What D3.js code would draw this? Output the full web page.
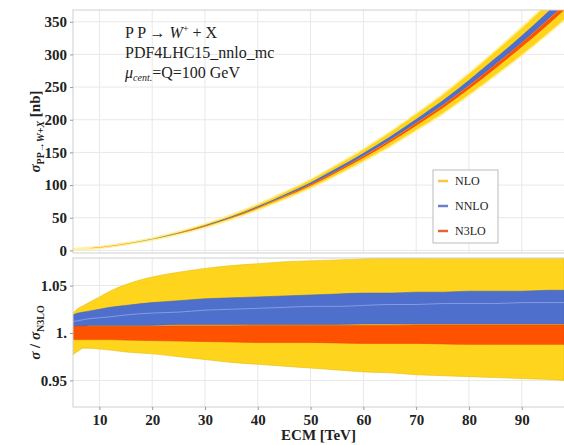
<!DOCTYPE html>
<html><head><meta charset="utf-8">
<script src="https://cdn.jsdelivr.net/npm/d3@7"></script>
<style>body{margin:0;background:#fff}svg{display:block}
svg text{font-family:'Liberation Serif','Times New Roman',serif !important;}</style>
</head><body>
<script>
// ---- data ----
const ecm = [5,6,7,8,10,12,15,20,25,30,35,40,45,50,55,60,65,70,75,80,85,90,95,98];
const sigmaN3LO = [1.5,2,2.6,3.2,4.6,6.5,10,17,26,37,50,65,82,100,121,143,167,193,220,250,282,315,350,372];
const nloHi  = [1.021,1.026,1.029,1.032,1.038,1.044,1.051,1.059,1.064,1.068,1.071,1.073,1.075,1.076,1.077,1.078,1.079,1.079,1.080,1.080,1.080,1.080,1.080,1.080];
const nloLo  = [0.977,0.981,0.984,0.984,0.983,0.982,0.980,0.978,0.975,0.972,0.969,0.967,0.965,0.963,0.961,0.959,0.958,0.956,0.955,0.954,0.953,0.952,0.951,0.950];
const nnloHi = [1.019,1.021,1.022,1.023,1.025,1.027,1.029,1.032,1.034,1.036,1.037,1.038,1.039,1.040,1.041,1.042,1.042,1.043,1.043,1.044,1.044,1.044,1.045,1.045];
const nnloLo = [1.006,1.007,1.007,1.008,1.008,1.008,1.008,1.008,1.009,1.009,1.009,1.009,1.009,1.009,1.009,1.0095,1.0095,1.0095,1.0095,1.0095,1.0095,1.0095,1.0095,1.0095];
const nnloMid= [1.012,1.013,1.014,1.015,1.016,1.017,1.019,1.021,1.022,1.024,1.025,1.026,1.027,1.028,1.028,1.029,1.030,1.030,1.031,1.031,1.031,1.032,1.032,1.032];
const n3loHi = [1.007,1.007,1.007,1.007,1.007,1.007,1.007,1.007,1.0075,1.0075,1.0075,1.008,1.008,1.008,1.008,1.008,1.008,1.0085,1.0085,1.0085,1.0085,1.0085,1.0085,1.0085];
const n3loLo = [0.993,0.993,0.993,0.993,0.993,0.993,0.9925,0.992,0.9915,0.991,0.9905,0.990,0.990,0.990,0.9895,0.989,0.989,0.989,0.9885,0.988,0.988,0.988,0.988,0.988];
const xTicks = [10,20,30,40,50,60,70,80,90];
const yTopTicks = [0,50,100,150,200,250,300,350];
const yBotTicks = [0.95,1,1.05];
const yBotTickLabels = ["0.95","1.","1.05"];
const legendLabels = ["NLO","NNLO","N3LO"];
const bandColors = ["#ffd41c","#4f6fcc","#ff5200"];
const legendColors = ["#f6c843","#6b80c8","#e2643a"];

const W = 564, H = 445;
const L = 73, R = 564, T1 = 10, B1 = 253, T2 = 258, B2 = 407;
const svg = d3.select("body").append("svg").attr("width", W).attr("height", H);

const x = d3.scaleLinear().domain([5, 98]).range([L, R]);
const yTop = d3.scaleLinear().domain([-4, 368]).range([B1, T1]);
const yBot = d3.scaleLinear().domain([0.922, 1.079]).range([B2, T2]);

const defs = svg.append("defs");
defs.append("clipPath").attr("id","c1").append("rect").attr("x",L).attr("y",T1).attr("width",R-L).attr("height",B1-T1);
defs.append("clipPath").attr("id","c2").append("rect").attr("x",L).attr("y",T2).attr("width",R-L).attr("height",B2-T2);

const gridCol = "#e8e8e8", frameCol = "#cfcfcf";

function grid(yScale, ticks, top, bottom) {
  const g = svg.append("g");
  g.selectAll(".vx").data(xTicks).join("line")
    .attr("x1", d => x(d)).attr("x2", d => x(d)).attr("y1", top).attr("y2", bottom)
    .attr("stroke", gridCol).attr("stroke-width", 1);
  g.selectAll(".hy").data(ticks).join("line")
    .attr("x1", L).attr("x2", R).attr("y1", d => yScale(d)).attr("y2", d => yScale(d))
    .attr("stroke", gridCol).attr("stroke-width", 1);
}
grid(yTop, yTopTicks, T1, B1);
grid(yBot, yBotTicks, T2, B2);

const idx = d3.range(ecm.length);
const bands = [[nloLo,nloHi],[nnloLo,nnloHi],[n3loLo,n3loHi]];

// top panel bands (absolute)
const gTop = svg.append("g").attr("clip-path","url(#c1)");
bands.forEach(([lo,hi], k) => {
  const area = d3.area().curve(d3.curveMonotoneX)
    .x(i => x(ecm[i])).y0(i => yTop(sigmaN3LO[i]*lo[i])).y1(i => yTop(sigmaN3LO[i]*hi[i]));
  if (k === 0) {
    gTop.append("path").attr("d", area(idx)).attr("fill", "#fff3a0")
      .attr("stroke", "#fff0a0").attr("stroke-width", 3);
  }
  gTop.append("path").attr("d", area(idx)).attr("fill", bandColors[k]);
});

// bottom panel bands (ratio)
const gBot = svg.append("g").attr("clip-path","url(#c2)");
bands.forEach(([lo,hi], k) => {
  const area = d3.area().curve(d3.curveMonotoneX)
    .x(i => x(ecm[i])).y0(i => yBot(lo[i])).y1(i => yBot(hi[i]));
  gBot.append("path").attr("d", area(idx)).attr("fill", bandColors[k])
    .attr("stroke", d3.color(bandColors[k]).darker(0.3)).attr("stroke-width", 0.6);
});
gBot.append("path")
  .attr("d", d3.line().curve(d3.curveMonotoneX).x(i => x(ecm[i])).y(i => yBot(nnloMid[i]))(idx))
  .attr("fill","none").attr("stroke","#93a6e4").attr("stroke-opacity",0.8).attr("stroke-width",1);

// frames
[[T1,B1],[T2,B2]].forEach(([t,b]) => {
  svg.append("rect").attr("x",L).attr("y",t).attr("width",R-L+2).attr("height",b-t)
    .attr("fill","none").attr("stroke",frameCol).attr("stroke-width",1);
});

// axes
function styleAxis(g) {
  g.attr("font-family", null);
  g.select(".domain").remove();
  g.selectAll(".tick line").attr("stroke","#999");
  g.selectAll(".tick text").attr("font-size","15px").attr("font-weight","bold").attr("fill","#222");
}
svg.append("g").attr("transform",`translate(${L},0)`)
  .call(d3.axisLeft(yTop).tickValues(yTopTicks).tickSize(3).tickPadding(3)).call(styleAxis);
svg.append("g").attr("transform",`translate(${L},0)`)
  .call(d3.axisLeft(yBot).tickValues(yBotTicks).tickFormat((d,i)=>yBotTickLabels[i]).tickSize(3).tickPadding(3)).call(styleAxis);
svg.append("g").attr("transform",`translate(0,${B2})`)
  .call(d3.axisBottom(x).tickValues(xTicks).tickFormat(d3.format("d")).tickSize(3).tickPadding(4)).call(styleAxis);

// axis titles
svg.append("text").attr("x", (L+R)/2).attr("y", 440).attr("text-anchor","middle")
  .attr("font-size","15px").attr("font-weight","bold").attr("fill","#222").text("ECM [TeV]");

const yl1 = svg.append("text").attr("transform",`translate(40,${(T1+B1)/2}) rotate(-90)`)
  .attr("text-anchor","middle").attr("font-size","15px").attr("font-weight","bold").attr("fill","#222");
yl1.append("tspan").attr("font-style","italic").text("σ");
yl1.append("tspan").attr("font-size","10px").attr("dy",4).text("PP→");
yl1.append("tspan").attr("font-size","10px").attr("font-style","italic").text("W");
yl1.append("tspan").attr("font-size","10px").text("+");
yl1.append("tspan").attr("font-size","10px").attr("font-style","italic").text("X");
yl1.append("tspan").attr("dy",-4).text(" [nb]");

const yl2 = svg.append("text").attr("transform",`translate(40,${(T2+B2)/2}) rotate(-90)`)
  .attr("text-anchor","middle").attr("font-size","15px").attr("font-weight","bold").attr("fill","#222");
yl2.append("tspan").attr("font-style","italic").text("σ");
yl2.append("tspan").text(" / ");
yl2.append("tspan").attr("font-style","italic").text("σ");
yl2.append("tspan").attr("font-size","10px").attr("dy",4).text("N3LO");

// annotation
const ann = svg.append("g").attr("font-size","16px").attr("fill","#222");
const t1 = ann.append("text").attr("x",125).attr("y",38);
t1.append("tspan").text("P P → ");
t1.append("tspan").attr("font-style","italic").text("W");
t1.append("tspan").attr("font-size","10px").attr("dy",-6).text("+");
t1.append("tspan").attr("dy",6).text("  + X");
ann.append("text").attr("x",125).attr("y",58).text("PDF4LHC15_nnlo_mc");
const t3 = ann.append("text").attr("x",125).attr("y",78);
t3.append("tspan").attr("font-style","italic").text("μ");
t3.append("tspan").attr("font-size","10px").attr("font-style","italic").attr("dy",3).text("cent.");
t3.append("tspan").attr("dy",-3).text("=Q=100 GeV");

// legend
const lg = svg.append("g");
lg.append("rect").attr("x",433).attr("y",170).attr("width",65).attr("height",73)
  .attr("fill","#fff").attr("stroke","#aaa").attr("stroke-width",0.8);
legendLabels.forEach((lab,i) => {
  const yy = 181 + i*25;
  lg.append("line").attr("x1",438).attr("x2",448).attr("y1",yy).attr("y2",yy)
    .attr("stroke",legendColors[i]).attr("stroke-width",2.5);
  lg.append("text").attr("x",455).attr("y",yy+4).attr("font-size","12px").attr("fill","#222").text(lab);
});
</script>
</body></html>
